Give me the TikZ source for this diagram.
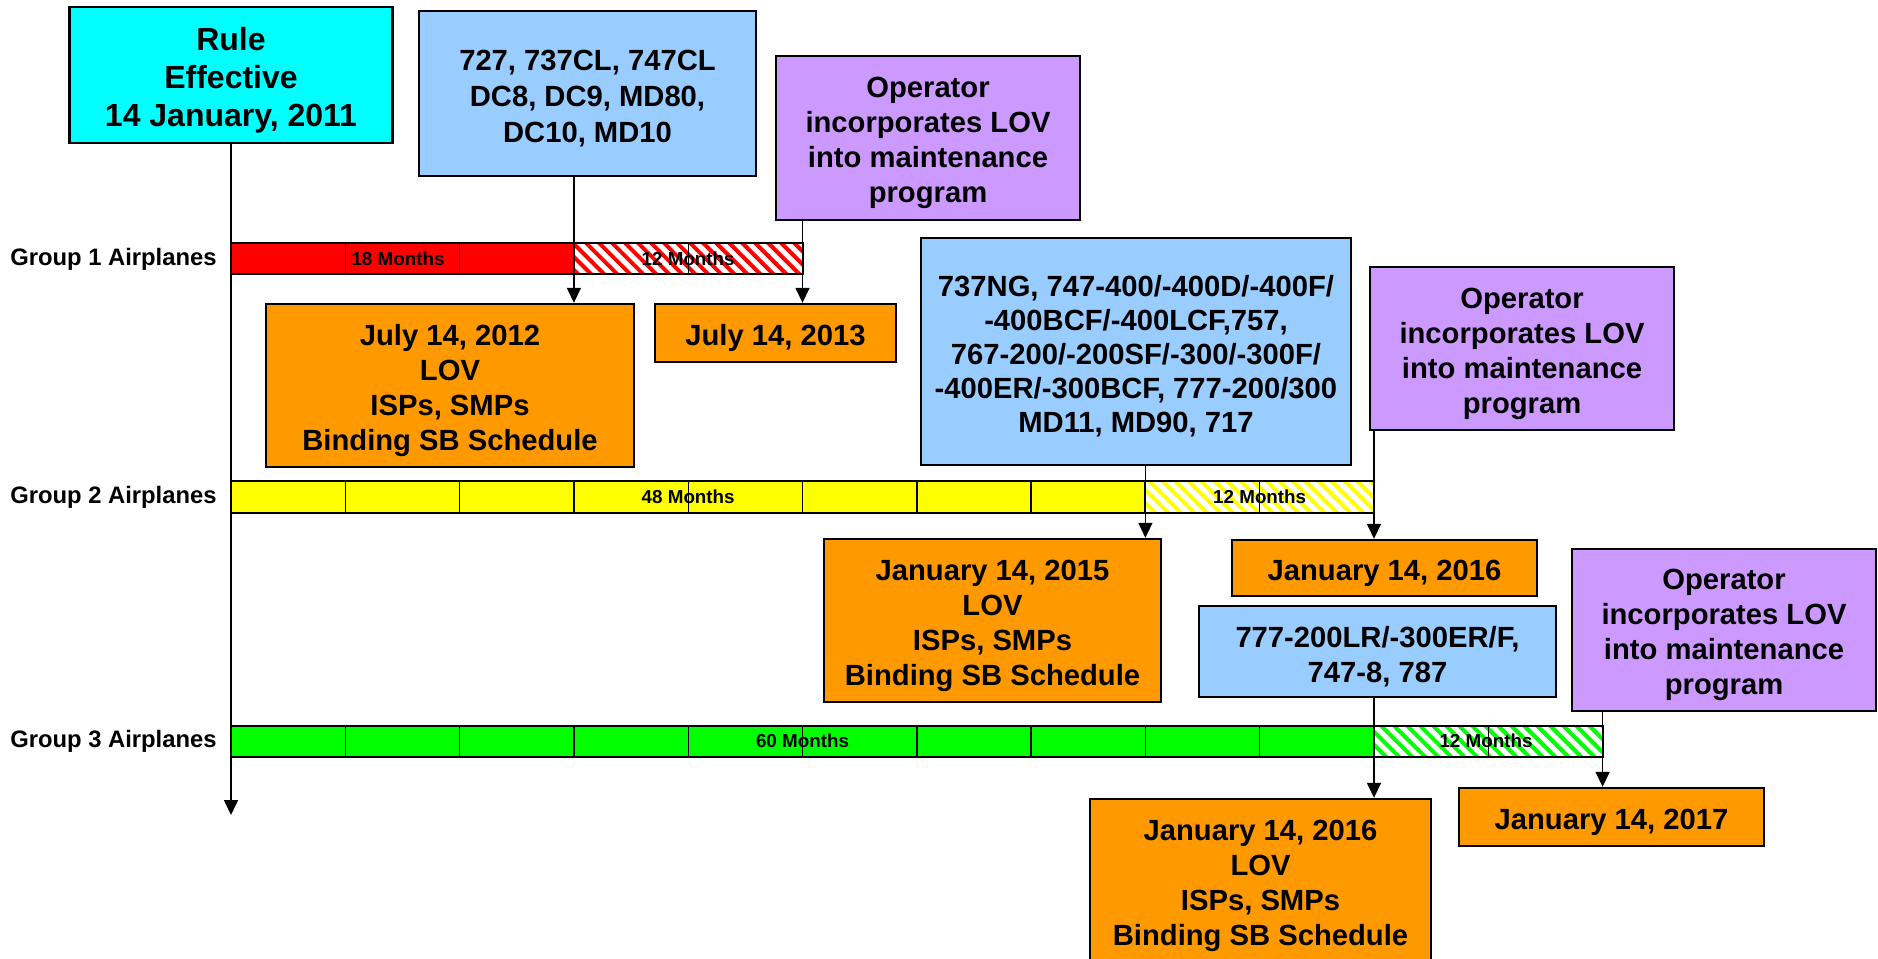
\documentclass[tikz,border=0pt]{standalone}
\usepackage{fontspec}
\setmainfont{Liberation Sans}
\usepackage{xcolor}
\usepackage{tikz}
\usetikzlibrary{arrows.meta,patterns.meta}

\definecolor{ruleCyan}{RGB}{0,255,255}
\definecolor{fleetBlue}{RGB}{153,204,255}
\definecolor{opPurple}{RGB}{204,153,255}
\definecolor{dateOrange}{RGB}{255,153,0}
\definecolor{grpRed}{RGB}{255,0,0}
\definecolor{grpYellow}{RGB}{255,255,0}
\definecolor{grpGreen}{RGB}{0,255,0}

% taller first line, so the text sits as low as in the slide
\newcommand{\lift}{\rule{0pt}{1.06em}}

\tikzset{
  box/.style={draw, line width=1.2pt, align=center, inner sep=0pt,
    font=\fontsize{14.6}{17.5}\selectfont\bfseries},
  rulebox/.style={box, fill=ruleCyan, font=\fontsize{16}{19}\selectfont\bfseries},
  fleet/.style={box, fill=fleetBlue},
  operator/.style={box, fill=opPurple},
  datebox/.style={box, fill=dateOrange},
  grouplabel/.style={anchor=east, inner sep=0pt, font=\fontsize{11.9}{14}\selectfont\bfseries},
  months/.style={inner sep=0pt, font=\fontsize{9.4}{11}\selectfont\bfseries},
  bar/.style={line width=1pt},
  tick/.style={line width=0.7pt},
  hatch/.style={bar, pattern={Lines[angle=-45,distance=4.6pt,line width=2pt]}, pattern color=#1},
  link/.style={-{Triangle[length=7.5pt,width=7pt]}, line width=0.8pt}
}

\begin{document}
\begin{tikzpicture}[x=0.5pt, y=-0.5pt]
\path[use as bounding box, fill=white] (0,0) rectangle (1878,958);

% boxes above and below the bars
\node[rulebox, minimum width=161.5pt, minimum height=68pt] (rule) at (231,75) {\lift Rule\\Effective\\14 January, 2011};
\node[fleet, minimum width=168.5pt, minimum height=82.5pt, font=\fontsize{14.6}{18}\selectfont\bfseries] (blueA) at (587.5,93.5) {\lift 727, 737CL, 747CL\\DC8, DC9, MD80,\\DC10, MD10};
\node[operator, minimum width=152pt, minimum height=82pt] (opA) at (928,138) {\lift Operator\\incorporates LOV\\into maintenance\\program};
\node[datebox, minimum width=184pt, minimum height=81.5pt] (dateA) at (450,385.5) {\lift July 14, 2012\\LOV\\ISPs, SMPs\\Binding SB Schedule};
\node[datebox, minimum width=120.5pt, minimum height=29pt] (dateB) at (775.5,333) {\lift July 14, 2013};
\node[fleet, minimum width=215pt, minimum height=113.5pt, font=\fontsize{14.6}{17}\selectfont\bfseries] (blueB) at (1136,351.5) {\lift 737NG, 747-400/-400D/-400F/\\-400BCF/-400LCF,757,\\767-200/-200SF/-300/-300F/\\-400ER/-300BCF, 777-200/300\\MD11, MD90, 717};
\node[operator, minimum width=152pt, minimum height=81.5pt] (opB) at (1522,348.5) {\lift Operator\\incorporates LOV\\into maintenance\\program};
\node[datebox, minimum width=168.5pt, minimum height=81.5pt] (dateC) at (992.5,620.5) {\lift January 14, 2015\\LOV\\ISPs, SMPs\\Binding SB Schedule};
\node[datebox, minimum width=152.5pt, minimum height=28pt] (dateD) at (1384.5,568) {\lift January 14, 2016};
\node[fleet, minimum width=178.5pt, minimum height=45.5pt] (blueC) at (1377.5,651.5) {\lift 777-200LR/-300ER/F,\\747-8, 787};
\node[operator, minimum width=152pt, minimum height=81pt] (opC) at (1724,630) {\lift Operator\\incorporates LOV\\into maintenance\\program};
\node[datebox, minimum width=170.5pt, minimum height=82pt] (dateE) at (1260.5,881) {\lift January 14, 2016\\LOV\\ISPs, SMPs\\Binding SB Schedule};
\node[datebox, minimum width=152.5pt, minimum height=29pt] (dateF) at (1611.5,817) {\lift January 14, 2017};

% Group 1
\node[grouplabel] (grp1) at (217,259) {Group 1 Airplanes};
\draw[bar, fill=grpRed] (231,243) rectangle+(342.9,31);
\draw[hatch=grpRed] (573.9,243) rectangle+(228.6,31);
\node[months] (mon1a) at (398,259) {18 Months};
\node[months] (mon1b) at (688.2,259) {12 Months};
\draw[tick] (345.3,243) -- +(0,31) (459.6,243) -- +(0,31) (688.2,243) -- +(0,31);

% Group 2
\node[grouplabel] (grp2) at (217,497) {Group 2 Airplanes};
\draw[bar, fill=grpYellow] (231,481) rectangle+(914.4,32);
\draw[hatch=grpYellow] (1145.4,481) rectangle+(228.6,32);
\node[months] (mon2a) at (688.2,497) {48 Months};
\node[months] (mon2b) at (1259.7,497) {12 Months};
\draw[tick] (345.3,481) -- +(0,32) (459.6,481) -- +(0,32) (573.9,481) -- +(0,32)
  (688.2,481) -- +(0,32) (802.5,481) -- +(0,32) (916.8,481) -- +(0,32)
  (1031.1,481) -- +(0,32) (1259.7,481) -- +(0,32);

% Group 3
\node[grouplabel] (grp3) at (217,741) {Group 3 Airplanes};
\draw[bar, fill=grpGreen] (231,726) rectangle+(1143,31);
\draw[hatch=grpGreen] (1374,726) rectangle+(228.6,31);
\node[months] (mon3a) at (802.5,741) {60 Months};
\node[months] (mon3b) at (1486,741) {12 Months};
\draw[tick] (345.3,726) -- +(0,31) (459.6,726) -- +(0,31) (573.9,726) -- +(0,31)
  (688.2,726) -- +(0,31) (802.5,726) -- +(0,31) (916.8,726) -- +(0,31)
  (1031.1,726) -- +(0,31) (1145.4,726) -- +(0,31) (1259.7,726) -- +(0,31)
  (1488.3,726) -- +(0,31);

% where the arrows cross the bars
\coordinate (g1solid) at (573.9,259);
\coordinate (g1end) at (802.5,259);
\coordinate (g2solid) at (1145.4,497);
\coordinate (g2end) at (1374,497);
\coordinate (g3solid) at (1374,741);
\coordinate (g3end) at (1602.6,741);
\coordinate (axisend) at (231,815);

\draw[link] (rule.south) -- (rule.south |- axisend);
\draw[link] (blueA.south -| g1solid) -- (dateA.north -| g1solid);
\draw[link] (opA.south -| g1end) -- (dateB.north -| g1end);
\draw[link] (blueB.south -| g2solid) -- (dateC.north -| g2solid);
\draw[link] (opB.south -| g2end) -- (dateD.north -| g2end);
\draw[link] (blueC.south -| g3solid) -- (dateE.north -| g3solid);
\draw[link] (opC.south -| g3end) -- (dateF.north -| g3end);
\end{tikzpicture}
\end{document}
